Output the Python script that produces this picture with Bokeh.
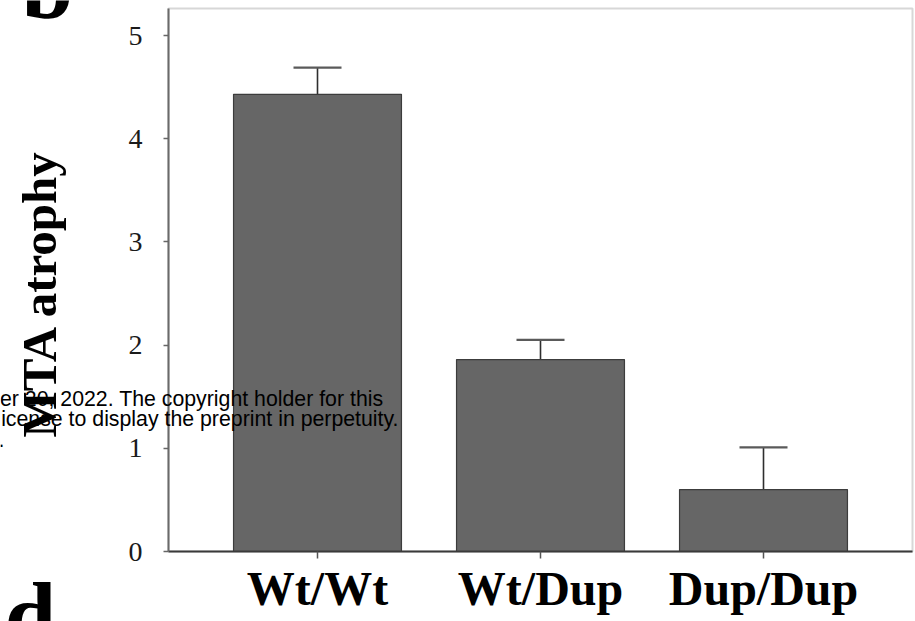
import math
from bokeh.plotting import figure
from bokeh.models import (ColumnDataSource, Whisker, TeeHead, FixedTicker, Range1d,
                          Label, BoxAnnotation)
from bokeh.embed import file_html
from bokeh.resources import INLINE

# ---- data ----
categories = ["Wt/Wt", "Wt/Dup", "Dup/Dup"]
means = [4.43, 1.86, 0.60]
sems = [0.26, 0.19, 0.41]
y_ticks = [0, 1, 2, 3, 4, 5]
y_label = "MTA atrophy"
watermark_lines = [
    "er 20, 2022. The copyright holder for this",
    "icense to display the preprint in perpetuity.",
    ".",
]
panel_letters = ["b", "d"]

# ---- page geometry (pixels) ----
W, H = 915, 621
X0_PX, X_STEP = 317.0, 223.0          # pixel of first category centre, pixels per category
Y0_PX, Y_TOP_PX, Y_MAX = 551.0, 8.0, 5.262   # pixel of y=0, pixel of plot-box top, y at box top
Y_UNIT = (Y0_PX - Y_TOP_PX) / Y_MAX
BOX_L_PX, BOX_R_PX = 168.0, 912.0

def xd(px):
    return (px - X0_PX) / X_STEP

def yd(py):
    return (Y0_PX - py) / Y_UNIT

xs = list(range(len(categories)))
src = ColumnDataSource(dict(
    x=xs,
    top=means,
    lower=means,
    upper=[m + s for m, s in zip(means, sems)],
))

# the frame covers the whole canvas; the axes are pinned with fixed_location
p = figure(
    width=W, height=H,
    output_backend="svg", toolbar_location=None, title=None,
    x_range=Range1d(xd(0), xd(W)), y_range=Range1d(yd(H), yd(0)),
    min_border=0,
)
p.background_fill_color = "white"
p.border_fill_color = "white"
p.outline_line_color = None
p.xgrid.visible = False
p.ygrid.visible = False

# plot box (top and right edges)
p.add_layout(BoxAnnotation(left=xd(BOX_L_PX), right=xd(BOX_R_PX), bottom=0, top=Y_MAX,
                           fill_color=None, line_color="#7a7a7a", line_width=2, level="underlay"))

p.vbar(x="x", top="top", bottom=0, width=0.753, source=src,
       fill_color="#666666", line_color="#3c3c3c", line_width=1.2)

w = Whisker(base="x", lower="lower", upper="upper", source=src, dimension="height",
            line_color="#2e2e2e", line_width=1.6,
            upper_head=TeeHead(size=48, line_color="#5a5a5a", line_width=2.2),
            lower_head=None)
p.add_layout(w)

# x axis
xa = p.xaxis[0]
xa.fixed_location = 0
xa.bounds = (xd(BOX_L_PX), xd(BOX_R_PX))
xa.ticker = FixedTicker(ticks=xs, minor_ticks=[])
xa.major_label_overrides = {i: c for i, c in enumerate(categories)}
xa.major_label_text_font = "Liberation Serif"
xa.major_label_text_font_style = "bold"
xa.major_label_text_font_size = "48px"
xa.major_label_text_color = "black"
xa.major_label_standoff = 3
xa.major_tick_in = 0
xa.major_tick_out = 7
xa.minor_tick_line_color = None
xa.axis_line_color = "#3a3a3a"
xa.axis_line_width = 2
xa.major_tick_line_color = "#555555"
xa.major_tick_line_width = 1.5

# y axis
ya = p.yaxis[0]
ya.fixed_location = xd(BOX_L_PX)
ya.bounds = (0, Y_MAX)
ya.ticker = FixedTicker(ticks=y_ticks, minor_ticks=[])
ya.major_label_text_font = "Liberation Serif"
ya.major_label_text_font_size = "28px"
ya.major_label_text_color = "#1a1a1a"
ya.major_label_standoff = 21
ya.major_tick_in = 0
ya.major_tick_out = 5
ya.minor_tick_line_color = None
ya.axis_line_color = "#6a6a6a"
ya.axis_line_width = 2
ya.major_tick_line_color = "#666666"
ya.major_tick_line_width = 1.5


def add_text(text, x_px, y_px, font, size, style="normal", align="left", angle=0.0):
    # (x_px, y_px): anchor point, vertically centred on the text line
    p.add_layout(Label(x=x_px, y=H - y_px, x_units="screen", y_units="screen", text=text,
                       text_font=font, text_font_size=size, text_font_style=style,
                       text_color="black", text_align=align, text_baseline="middle",
                       angle=angle))


# y axis title (rotated, reading upwards)
add_text(y_label, 38.5, 293, "Liberation Serif", "49px", "bold", "center", math.pi / 2)

# letters of the neighbouring (cropped) panels
add_text(panel_letters[0], 21, -14.5, "Liberation Serif", "93px", "bold")
add_text(panel_letters[1], 4, 614.5, "Liberation Serif", "93px", "bold")

# overlaid preprint watermark (cropped at the left edge)
wm_pos = [(383, 398.6), (398, 418.6), (4, 438.6)]
for txt, (rx, cy) in zip(watermark_lines, wm_pos):
    add_text(txt, rx, cy, "Liberation Sans", "21.3px", "normal", "right")

open("out.html", "w").write(file_html(p, INLINE))
